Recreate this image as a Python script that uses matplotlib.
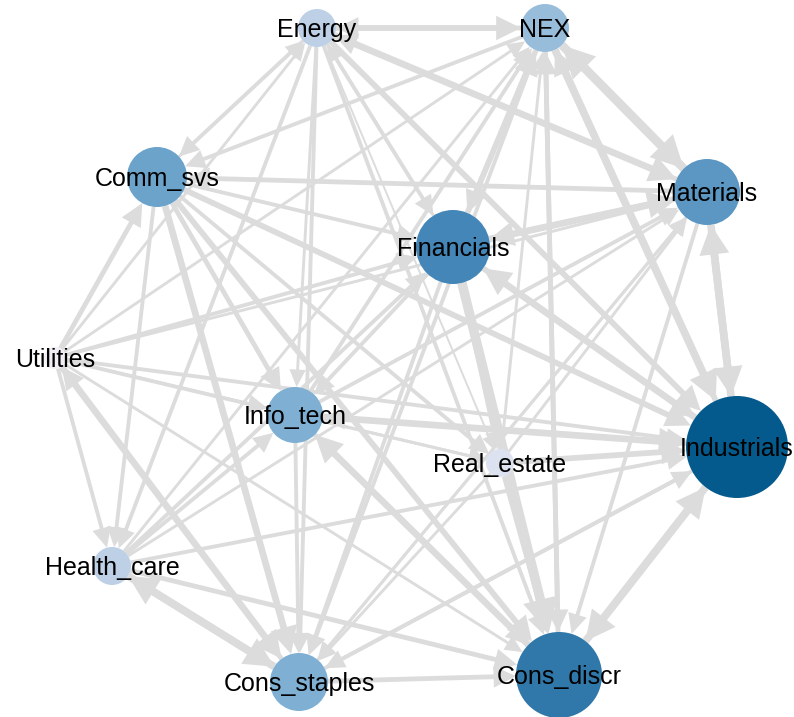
import matplotlib
matplotlib.use("Agg")
import matplotlib.pyplot as plt
from matplotlib.patches import Circle, FancyArrowPatch, ArrowStyle
from matplotlib.colors import LinearSegmentedColormap

# nodes and layout (layout units = pixels of the original picture)
nodes = ["Energy", "NEX", "Materials", "Industrials", "Cons_discr", "Cons_staples",
         "Health_care", "Utilities", "Comm_svs", "Financials", "Info_tech", "Real_estate"]
layout_x = [317, 545, 707, 737, 559, 299, 112, 55, 157, 453, 295, 500]
layout_y = [28, 28, 192, 447, 675, 682, 566, 358, 177, 247, 415, 463]

# node strength -> circle size, node level -> colour
strength = [19, 24, 33, 51, 43, 29, 19, 11, 30, 37, 28, 14]
level = [0.25, 0.40, 0.65, 1.0, 0.83, 0.50, 0.25, 0.0, 0.58, 0.75, 0.50, 0.10]

# directed edges: source, target, weight
src = ["Energy", "NEX", "Energy", "Materials", "Energy", "Energy", "Energy", "Energy",
       "Energy", "Utilities", "Energy", "Comm_svs", "Energy", "Energy",
       "NEX", "Materials", "NEX", "Industrials", "NEX", "Cons_discr", "NEX", "Info_tech",
       "Health_care", "Utilities", "NEX", "NEX", "Financials", "Real_estate",
       "Materials", "Industrials", "Materials", "Cons_staples", "Info_tech", "Health_care",
       "Utilities", "Materials", "Financials", "Materials", "Real_estate",
       "Industrials", "Cons_discr", "Cons_staples", "Info_tech", "Industrials", "Health_care",
       "Utilities", "Comm_svs", "Financials", "Industrials", "Real_estate",
       "Cons_staples", "Cons_discr", "Info_tech", "Health_care", "Utilities", "Comm_svs",
       "Financials", "Real_estate",
       "Health_care", "Cons_staples", "Utilities", "Cons_staples", "Comm_svs", "Info_tech",
       "Financials", "Real_estate", "Materials", "Industrials",
       "Utilities", "Comm_svs", "Health_care", "Health_care",
       "Utilities", "Utilities", "Utilities", "Utilities",
       "Comm_svs", "Comm_svs", "Comm_svs",
       "Financials", "Financials", "Info_tech", "Financials"]
dst = ["NEX", "Energy", "Materials", "Energy", "Industrials", "Cons_discr", "Cons_staples", "Info_tech",
       "Health_care", "Energy", "Comm_svs", "Energy", "Financials", "Real_estate",
       "Materials", "NEX", "Industrials", "NEX", "Cons_discr", "NEX", "Cons_staples", "NEX",
       "NEX", "NEX", "Comm_svs", "Financials", "NEX", "NEX",
       "Industrials", "Materials", "Cons_discr", "Materials", "Materials", "Materials",
       "Materials", "Comm_svs", "Materials", "Financials", "Materials",
       "Cons_discr", "Industrials", "Industrials", "Industrials", "Info_tech", "Industrials",
       "Industrials", "Industrials", "Industrials", "Financials", "Industrials",
       "Cons_discr", "Info_tech", "Cons_discr", "Cons_discr", "Cons_discr", "Cons_discr",
       "Cons_discr", "Cons_discr",
       "Cons_staples", "Health_care", "Cons_staples", "Utilities", "Cons_staples", "Cons_staples",
       "Cons_staples", "Cons_staples", "Cons_staples", "Cons_staples",
       "Health_care", "Health_care", "Info_tech", "Financials",
       "Comm_svs", "Info_tech", "Financials", "Real_estate",
       "Info_tech", "Financials", "Real_estate",
       "Info_tech", "Real_estate", "Real_estate", "Energy"]
weight = [5, 4, 6, 4, 5, 3, 3, 2,
          3, 2, 3, 2, 3, 1,
          8, 8, 7, 5, 4, 4, 3, 3,
          2, 2, 3, 4, 5, 2,
          7, 7, 3, 2, 3, 2,
          2, 4, 6, 5, 2,
          7, 7, 3, 6, 4, 3,
          3, 5, 5, 6, 5,
          4, 6, 4, 4, 2, 5,
          9, 3,
          7, 7, 6, 4, 6, 3,
          3, 2, 2, 3,
          3, 3, 3, 3,
          4, 3, 3, 2,
          4, 3, 3,
          3, 2, 2, 2]

W, H = 794, 717
fig = plt.figure(figsize=(W / 100, H / 100), dpi=100)
ax = fig.add_axes([0, 0, 1, 1])
ax.set_xlim(0, W)
ax.set_ylim(H, 0)
ax.axis("off")

pos = {n: (x, y) for n, x, y in zip(nodes, layout_x, layout_y)}
rad = dict(zip(nodes, strength))
cmap = LinearSegmentedColormap.from_list(
    "blues5", ["#f1eef6", "#bdd0e6", "#7fb0d4", "#4487b7", "#045a8d"])
px2pt = 72 / 100

# edges, thin ones first
for s, t, w in sorted(zip(src, dst, weight), key=lambda e: e[2]):
    lw_px = 1.0 + 0.95 * w
    lw = lw_px * px2pt
    hl = 7 + 1.0 * lw
    hw = 3 + 0.6 * lw
    arr = FancyArrowPatch(pos[s], pos[t],
                          arrowstyle=ArrowStyle("-|>", head_length=hl, head_width=hw),
                          mutation_scale=1, lw=lw, color="#dcdcdc",
                          shrinkA=rad[s] * px2pt, shrinkB=rad[t] * px2pt,
                          capstyle="butt", joinstyle="miter", zorder=1)
    ax.add_patch(arr)

# nodes
for n, lv in zip(nodes, level):
    x, y = pos[n]
    ax.add_patch(Circle((x, y), rad[n], facecolor=cmap(lv), edgecolor="none", zorder=2))

for n in nodes:
    x, y = pos[n]
    ax.text(x, y + 9, n, ha="center", va="baseline", fontsize=18,
            family="Liberation Sans", color="black", zorder=3)

fig.savefig("out.png", dpi=100)
